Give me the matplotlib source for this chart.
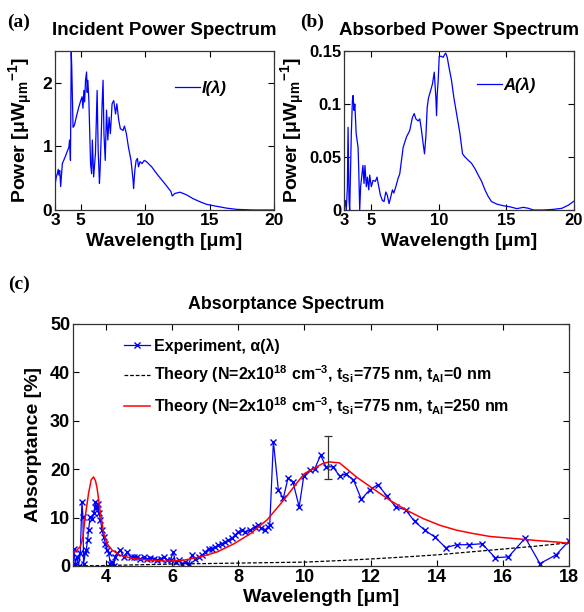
import numpy as np
import matplotlib
matplotlib.use("Agg")
import matplotlib.pyplot as plt

plt.rcParams['font.family'] = ['Liberation Sans', 'DejaVu Sans']
plt.rcParams['font.weight'] = 'bold'
plt.rcParams['mathtext.fontset'] = 'custom'
plt.rcParams['mathtext.rm'] = 'Liberation Sans:bold'
plt.rcParams['mathtext.bf'] = 'Liberation Sans:bold'
plt.rcParams['mathtext.it'] = 'Liberation Sans:bold:italic'
plt.rcParams['mathtext.default'] = 'rm'

# (a) incident power spectrum, uW/um
inc_wl = [3.0, 3.1, 3.18, 3.25, 3.3, 3.37, 3.44, 3.57, 3.8, 4.08, 4.13, 4.2, 4.26, 4.3, 4.4,
          4.5, 4.7, 4.85, 5.0, 5.1, 5.17, 5.24, 5.3, 5.37, 5.45, 5.5, 5.55, 5.63, 5.76, 5.84,
          5.9, 6.0, 6.14, 6.27, 6.35, 6.45, 6.5, 6.6, 6.65, 6.73, 6.8, 6.9, 7.0, 7.1, 7.2,
          7.3, 7.43, 7.56, 7.7, 7.8, 7.95, 8.07, 8.28, 8.39, 8.54, 8.7, 8.9, 9.06, 9.1, 9.2,
          9.3, 9.4, 9.48, 9.6, 9.75, 9.93, 10.1, 10.5, 10.9, 11.3, 11.7, 12.0, 12.1, 12.3,
          12.7, 13.2, 13.7, 14.25, 14.75, 15.5, 16.3, 17.1, 18.4, 19.4, 20.0]
inc_pw = [0.39, 0.52, 0.57, 0.64, 0.55, 0.62, 0.37, 0.73, 0.84, 0.99, 1.1, 0.78, 2.48, 2.25,
          1.3, 1.33, 1.5, 1.62, 1.72, 1.78, 1.6, 1.88, 1.7, 2.04, 2.17, 1.85, 2.04, 1.72,
          0.73, 0.57, 1.1, 0.52, 0.89, 1.88, 0.94, 0.42, 0.63, 1.25, 1.62, 2.04, 1.2, 0.78,
          1.57, 1.1, 1.46, 1.2, 1.67, 1.72, 1.51, 1.67, 1.41, 1.28, 1.25, 1.32, 1.2, 0.99,
          0.78, 0.47, 0.34, 0.63, 0.78, 0.81, 0.68, 0.76, 0.73, 0.78, 0.76, 0.68, 0.57, 0.47,
          0.37, 0.29, 0.22, 0.26, 0.28, 0.24, 0.18, 0.13, 0.09, 0.06, 0.03, 0.01, 0.0, 0.0,
          0.0]

# (b) absorbed power spectrum
abs_wl = [3.0, 3.1, 3.17, 3.25, 3.3, 3.37, 3.42, 3.5, 3.54, 3.62, 3.67, 3.74, 3.8, 3.9, 4.04,
          4.09, 4.16, 4.23, 4.33, 4.4, 4.48, 4.55, 4.65, 4.73, 4.83, 4.9, 5.02, 5.15, 5.32,
          5.44, 5.57, 5.69, 5.84, 5.96, 6.09, 6.2, 6.33, 6.46, 6.58, 6.68, 6.83, 7.0, 7.12,
          7.37, 7.62, 7.86, 8.06, 8.19, 8.31, 8.48, 8.6, 8.73, 8.85, 8.95, 9.05, 9.15, 9.25,
          9.4, 9.54, 9.67, 9.74, 9.79, 9.84, 9.89, 9.96, 10.04, 10.2, 10.33, 10.45, 10.52,
          10.63, 10.77, 10.95, 11.12, 11.32, 11.57, 11.76, 11.94, 12.18, 12.43, 12.68, 12.92,
          13.17, 13.42, 13.67, 13.9, 14.28, 14.78, 15.27, 15.77, 16.26, 16.63, 17.0, 17.74,
          18.48, 19.1, 19.6, 20.0]
abs_pw = [0.0, 0.009, 0.0, 0.022, 0.078, 0.009, 0.0, 0.047, 0.072, 0.103, 0.108, 0.094, 0.1,
          0.072, 0.059, 0.038, 0.0, 0.022, 0.034, 0.042, 0.025, 0.042, 0.022, 0.031, 0.019,
          0.033, 0.022, 0.028, 0.027, 0.031, 0.022, 0.014, 0.009, 0.008, 0.017, 0.014, 0.006,
          0.0125, 0.019, 0.016, 0.022, 0.03, 0.034, 0.059, 0.069, 0.075, 0.0875, 0.091, 0.086,
          0.084, 0.086, 0.075, 0.0625, 0.053, 0.069, 0.097, 0.106, 0.1125, 0.119, 0.13, 0.116,
          0.106, 0.089, 0.109, 0.122, 0.145, 0.145, 0.144, 0.147, 0.148, 0.144, 0.134, 0.122,
          0.106, 0.091, 0.072, 0.053, 0.05, 0.047, 0.044, 0.039, 0.033, 0.027, 0.019, 0.0125,
          0.008, 0.0056, 0.004, 0.003, 0.0013, 0.0025, 0.0016, 0.0, 0.0, 0.0006, 0.0016, 0.0047,
          0.0084]

# (c) absorptance, %
exp_wl = [3.02, 3.07, 3.12, 3.17, 3.22, 3.27, 3.3, 3.32, 3.37, 3.4, 3.44, 3.47, 3.52, 3.58,
          3.63, 3.68, 3.71, 3.75, 3.79, 3.83, 3.88, 3.93, 3.98, 4.03, 4.08, 4.13, 4.18, 4.23,
          4.28, 4.33, 4.43, 4.53, 4.64, 4.74, 4.84, 4.94, 5.04, 5.14, 5.24, 5.34, 5.44, 5.55,
          5.65, 5.75, 5.85, 5.95, 6.03, 6.1, 6.2, 6.3, 6.4, 6.5, 6.6, 6.7, 6.8, 6.9, 7.0, 7.1,
          7.2, 7.3, 7.4, 7.5, 7.6, 7.7, 7.8, 7.9, 8.0, 8.1, 8.2, 8.35, 8.5, 8.6, 8.7, 8.8, 8.9,
          8.95, 9.06, 9.21, 9.36, 9.5, 9.65, 9.84, 9.98, 10.16, 10.31, 10.49, 10.65, 10.86,
          11.06, 11.26, 11.48, 11.72, 11.97, 12.22, 12.5, 12.76, 13.06, 13.33, 13.64, 13.94,
          14.27, 14.6, 14.98, 15.37, 15.77, 16.17, 16.68, 17.12, 17.61, 18.0]
exp_ab = [3.6, 0.5, 1.9, 0.1, 2.6, 13.3, 10.2, 0.5, 2.6, 3.3, 5.3, 7.4, 10.2, 9.8, 10.9, 13.3,
          11.9, 12.9, 10.9, 9.5, 7.4, 6.0, 4.6, 3.3, 2.6, 0.5, 0.8, 0.1, 1.9, 2.6, 3.3, 1.9,
          2.9, 1.9, 1.9, 1.9, 1.5, 1.9, 1.5, 1.7, 1.5, 1.2, 1.5, 1.9, 1.2, 1.2, 2.9, 0.8, 1.2,
          0.5, 0.8, 0.5, 2.2, 1.5, 1.9, 2.2, 2.9, 3.6, 3.6, 3.9, 4.3, 4.6, 5.0, 5.3, 5.7, 6.4,
          7.1, 7.4, 7.1, 7.4, 8.1, 8.4, 7.8, 7.4, 8.1, 8.4, 25.7, 15.7, 14.0, 18.1, 17.4, 12.2,
          18.6, 19.8, 20.1, 22.9, 20.5, 20.5, 18.6, 19.0, 17.8, 13.8, 15.7, 16.8, 14.4, 12.2,
          11.6, 9.2, 7.4, 6.0, 3.8, 4.4, 4.4, 4.6, 1.7, 1.9, 5.8, 0.5, 2.3, 5.2]

th0_wl = [3, 4, 5, 6, 7, 8, 9, 10, 11, 12, 13, 14, 15, 16, 17, 18]
th0_ab = [0.0, 0.1, 0.25, 0.4, 0.5, 0.6, 0.7, 0.8, 1.1, 1.45, 1.85, 2.3, 2.9, 3.5, 4.1, 4.8]

th250_wl = [3.0, 3.22, 3.3, 3.37, 3.47, 3.55, 3.62, 3.68, 3.73, 3.83, 3.93, 4.03, 4.18, 4.43,
            4.84, 5.34, 5.85, 6.35, 6.86, 7.36, 7.87, 8.37, 8.88, 9.38, 9.89, 10.0, 10.56,
            10.76, 11.06, 11.57, 12.07, 12.58, 13.09, 13.59, 14.1, 14.6, 15.11, 15.61, 16.12,
            16.63, 17.13, 17.64, 18.0]
th250_ab = [2.5, 4.0, 6.0, 10.2, 15.0, 17.8, 18.4, 17.6, 16.0, 10.9, 6.7, 4.6, 3.3, 2.2, 1.5,
            1.2, 1.0, 1.2, 1.9, 2.9, 4.6, 6.7, 9.6, 13.7, 18.2, 19.1, 21.2, 21.5, 21.3, 18.4,
            16.0, 13.6, 11.5, 9.8, 8.4, 7.4, 6.7, 6.1, 5.8, 5.5, 5.2, 4.95, 4.7]

err_wl = 10.72
err_mid = 22.45
err_half = 4.45

W, H = 584, 612
fig = plt.figure(figsize=(W / 100, H / 100), dpi=100)


def box(l, t, r, b):
    return fig.add_axes([l / W, 1 - b / H, (r - l) / W, (b - t) / H])


def style(ax, fs):
    ax.tick_params(direction='in', top=True, right=True, length=4, width=0.8,
                   labelsize=fs, pad=2)
    for s in ax.spines.values():
        s.set_linewidth(0.9)
        s.set_color('#333333')


ylab_ab = 'Power [μW$_{\\mathrm{μm}}$$^{\\mathrm{-1}}$]'

ax1 = box(55, 51, 274, 210)
ax1.plot(inc_wl, inc_pw, color='blue', lw=0.9, label='I(λ)')
ax1.set_xlim(3, 20)
ax1.set_ylim(0, 2.5)
ax1.set_xticks([3, 5, 10, 15, 20])
ax1.set_yticks([0, 1, 2])
style(ax1, 12.5)
ax1.text(0.5, 1.10, 'Incident Power Spectrum', transform=ax1.transAxes, ha='center',
         va='baseline', fontsize=13.5, fontweight='bold')
ax1.set_xlabel('Wavelength [μm]', fontsize=14, fontweight='bold')
ax1.xaxis.set_label_coords(0.5, -0.145)
ax1.set_ylabel(ylab_ab, fontsize=14, fontweight='bold')
ax1.yaxis.set_label_coords(-0.09, 0.5)
ax1.legend(loc='center left', bbox_to_anchor=(0.548, 0.767), frameon=False,
           handlelength=1.5, handletextpad=0.1, borderpad=0, borderaxespad=0,
           prop={'size': 12, 'weight': 'bold', 'style': 'italic'})

ax2 = box(344, 51, 574, 210)
ax2.plot(abs_wl, abs_pw, color='blue', lw=0.9, label='A(λ)')
ax2.set_xlim(3, 20)
ax2.set_ylim(0, 0.15)
ax2.set_xticks([3, 5, 10, 15, 20])
ax2.set_yticks([0, 0.05, 0.1, 0.15])
ax2.set_yticklabels(['0', '0.05', '0.1', '0.15'])
style(ax2, 12)
ax2.text(0.5, 1.10, 'Absorbed Power Spectrum', transform=ax2.transAxes, ha='center',
         va='baseline', fontsize=13.5, fontweight='bold')
ax2.set_xlabel('Wavelength [μm]', fontsize=14, fontweight='bold')
ax2.xaxis.set_label_coords(0.5, -0.145)
ax2.set_ylabel(ylab_ab, fontsize=14, fontweight='bold')
ax2.yaxis.set_label_coords(-0.16, 0.5)
ax2.legend(loc='center left', bbox_to_anchor=(0.578, 0.786), frameon=False,
           handlelength=1.5, handletextpad=0.1, borderpad=0, borderaxespad=0,
           prop={'size': 12, 'weight': 'bold', 'style': 'italic'})

ax3 = box(73, 324, 569, 566)
ax3.plot(exp_wl, exp_ab, color='blue', lw=0.9, marker='x', ms=5, mew=1.0,
         label='Experiment, α(λ)')
ax3.plot(th0_wl, th0_ab, color='black', lw=0.9, ls='--', dashes=(3, 1.5),
         label='Theory (N=2x10$^{18}$ cm$^{-3}$, t$_{Si}$=775 nm, t$_{Al}$=0 nm')
ax3.plot(th250_wl, th250_ab, color='red', lw=1.1,
         label='Theory (N=2x10$^{18}$ cm$^{-3}$, t$_{Si}$=775 nm, t$_{Al}$=250 nm')
ax3.errorbar([err_wl], [err_mid], yerr=[err_half], color='#333333', lw=0.9, capsize=3,
             capthick=0.9, fmt='none')
ax3.set_xlim(3, 18)
ax3.set_ylim(0, 50)
ax3.set_xticks(np.arange(4, 19, 2))
ax3.set_yticks(np.arange(0, 51, 10))
style(ax3, 13)
ax3.set_xlabel('Wavelength [μm]', fontsize=14, fontweight='bold')
ax3.xaxis.set_label_coords(0.5, -0.095)
ax3.set_ylabel('Absorptance [%]', fontsize=14, fontweight='bold')
ax3.yaxis.set_label_coords(-0.0625, 0.5)
ax3.legend(loc='upper left', bbox_to_anchor=(0.103, 0.94), frameon=False,
           handlelength=1.6, handletextpad=0.3, borderpad=0, borderaxespad=0,
           labelspacing=0.6, prop={'size': 11.5, 'weight': 'bold'})

fig.text(286 / W, 1 - 309 / H, 'Absorptance Spectrum', ha='center', va='baseline',
         fontsize=12.8, fontweight='bold')
fig.text(7 / W, 1 - 27 / H, '(a)', family='Liberation Serif', fontsize=14,
         fontweight='bold', va='baseline')
fig.text(300 / W, 1 - 27 / H, '(b)', family='Liberation Serif', fontsize=14,
         fontweight='bold', va='baseline')
fig.text(8 / W, 1 - 289 / H, '(c)', family='Liberation Serif', fontsize=14,
         fontweight='bold', va='baseline')

fig.savefig('out.png', dpi=100)
